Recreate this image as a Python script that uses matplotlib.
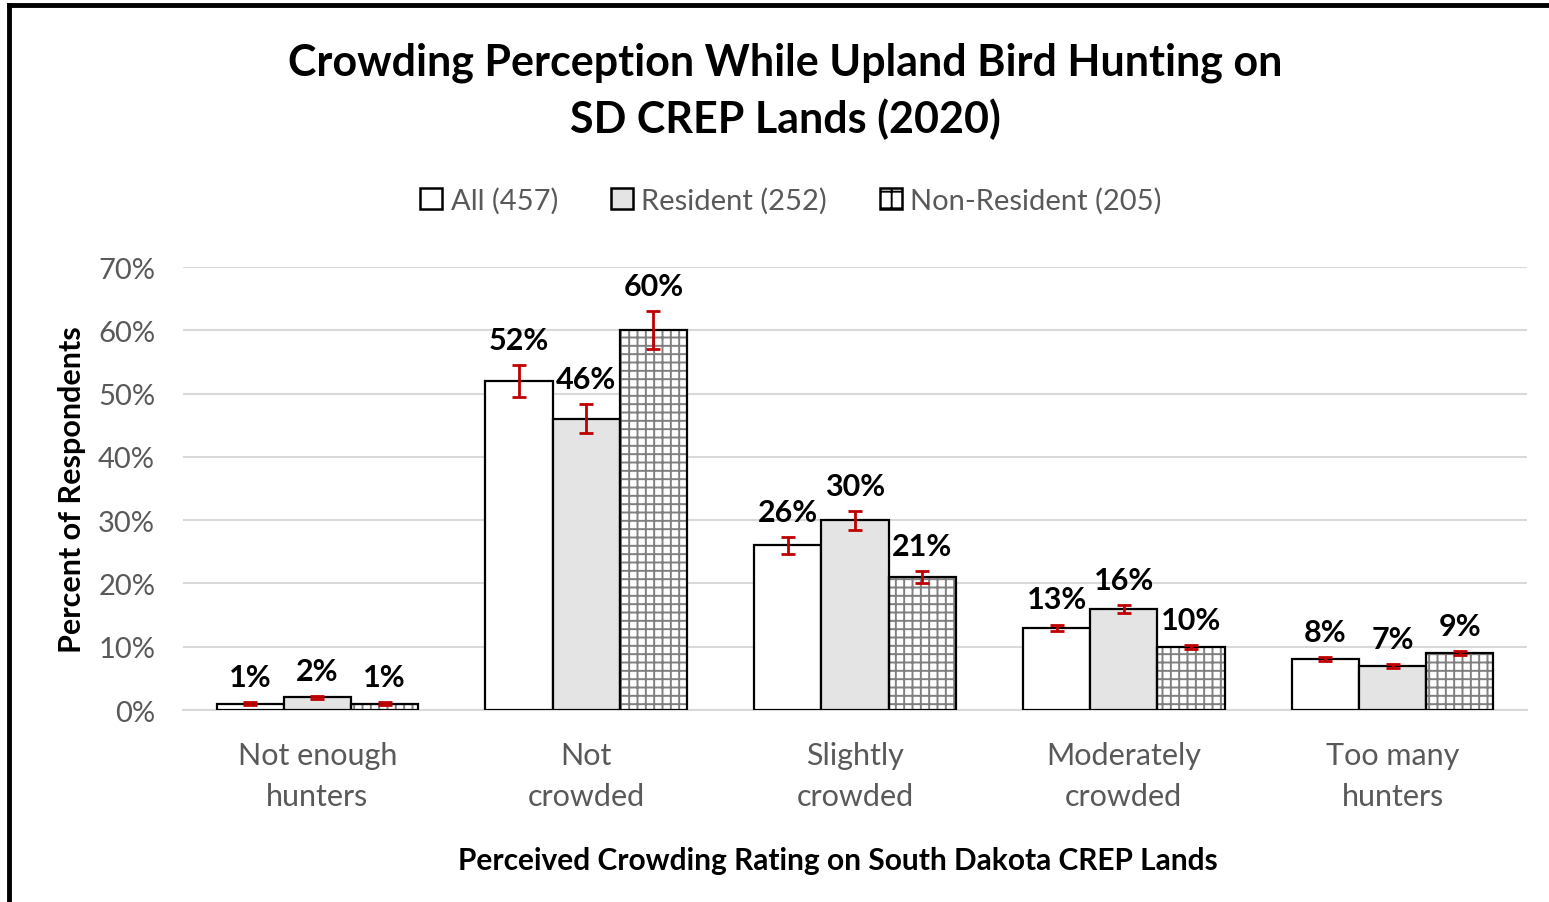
import numpy as np
import matplotlib
matplotlib.use('Agg')
import matplotlib.pyplot as plt
from matplotlib.patches import Patch
from matplotlib.lines import Line2D

plt.rcParams['font.family'] = ['Lato', 'DejaVu Sans']
plt.rcParams['hatch.linewidth'] = 1.4

# data
categories = ['Not enough\nhunters', 'Not\ncrowded', 'Slightly\ncrowded',
              'Moderately\ncrowded', 'Too many\nhunters']
series_names = ['All (457)', 'Resident (252)', 'Non-Resident (205)']
all_vals = [1, 52, 26, 13, 8]
res_vals = [2, 46, 30, 16, 7]
nonres_vals = [1, 60, 21, 10, 9]
all_err = [0.2, 2.5, 1.3, 0.5, 0.3]
res_err = [0.2, 2.3, 1.5, 0.6, 0.3]
nonres_err = [0.2, 3.0, 1.0, 0.3, 0.3]
yticks = [0, 10, 20, 30, 40, 50, 60, 70]

gray_txt = '#595959'
fig = plt.figure(figsize=(15.49, 9.03), dpi=100)
ax = fig.add_axes([0.1181, 0.2126, 0.8677, 0.4906])

x = np.arange(len(categories))
w = 0.25
vals = [all_vals, res_vals, nonres_vals]
errs = [all_err, res_err, nonres_err]
fills = ['white', '#e4e4e4', 'white']
hatches = [None, None, '++']

for i in range(3):
    xs = x + (i - 1) * w
    if hatches[i]:
        ax.bar(xs, vals[i], w, color='white', edgecolor='#808080',
               hatch=hatches[i], linewidth=0, zorder=2)
        ax.bar(xs, vals[i], w, color='none', edgecolor='black',
               linewidth=1.6, zorder=3)
    else:
        ax.bar(xs, vals[i], w, color=fills[i], edgecolor='black',
               linewidth=1.6, zorder=3)
    ax.errorbar(xs, vals[i], yerr=errs[i], fmt='none', ecolor='#c00000',
                elinewidth=2, capsize=5, capthick=2, zorder=4)
    for xv, v, e in zip(xs, vals[i], errs[i]):
        ax.annotate(f'{v}%', (xv, v + e), xytext=(0, 8),
                    textcoords='offset points', ha='center', va='bottom',
                    fontsize=22, fontweight='bold', color='black')

ax.set_xlim(-0.5, 4.5)
ax.set_ylim(0, 70)
ax.set_yticks(yticks)
ax.set_yticklabels([f'{t}%' for t in yticks])
ax.set_xticks(x)
ax.set_xticklabels(categories, linespacing=1.58)
ax.tick_params(axis='both', length=0, labelsize=21, colors=gray_txt)
ax.tick_params(axis='x', labelsize=22, pad=22)
ax.tick_params(axis='y', pad=20)
ax.grid(axis='y', color='#d9d9d9', linewidth=1.5, zorder=0)
ax.set_axisbelow(True)
for s in ['top', 'right', 'left']:
    ax.spines[s].set_visible(False)
ax.spines['bottom'].set_color('#d9d9d9')
ax.spines['bottom'].set_linewidth(1.5)

fig.text(72 / 1549, 1 - 490 / 903, 'Percent of Respondents', rotation=90,
         ha='center', va='center', fontsize=22, fontweight='bold')
fig.text(838 / 1549, 1 - 861 / 903,
         'Perceived Crowding Rating on South Dakota CREP Lands',
         ha='center', va='center', fontsize=21.5, fontweight='bold')
fig.text(785 / 1549, 1 - 91 / 903,
         'Crowding Perception While Upland Bird Hunting on\nSD CREP Lands (2020)',
         ha='center', va='center', fontsize=31, fontweight='bold',
         linespacing=1.45)

handles = [Patch(facecolor='white', edgecolor='black', linewidth=1.8),
           Patch(facecolor='#e4e4e4', edgecolor='black', linewidth=1.8),
           Patch(facecolor='white', edgecolor='black', linewidth=1.8,
                 hatch='+')]
fig.legend(handles, series_names, loc='center',
           bbox_to_anchor=(791 / 1549, 1 - 201 / 903), ncol=3,
           frameon=False, fontsize=21, labelcolor=gray_txt,
           handlelength=0.75, handleheight=0.75, handletextpad=0.3,
           columnspacing=1.8)

# outer frame (left and top edges only are visible)
fig.add_artist(Line2D([9 / 1549, 9 / 1549], [0, 1 - 6 / 903],
                      transform=fig.transFigure, color='black', linewidth=3.5))
fig.add_artist(Line2D([9 / 1549, 1], [1 - 6 / 903, 1 - 6 / 903],
                      transform=fig.transFigure, color='black', linewidth=3.5))

fig.savefig('out.png', dpi=100)
